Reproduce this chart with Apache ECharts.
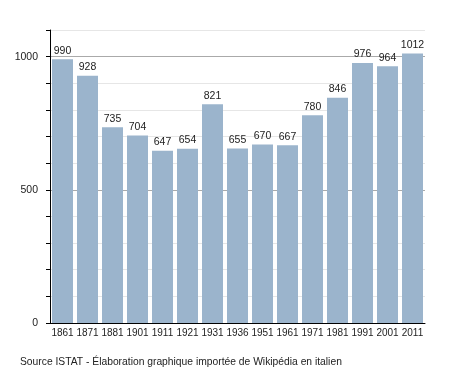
<!DOCTYPE html>
<html>
<head>
<meta charset="utf-8">
<script src="https://cdn.jsdelivr.net/npm/echarts@6/dist/echarts.min.js"></script>
<style>
html,body{margin:0;padding:0;background:#fff;}
#c{width:455px;height:373px;}
</style>
</head>
<body>
<div id="c"></div>
<script>
const years = ['1861','1871','1881','1901','1911','1921','1931','1936','1951','1961','1971','1981','1991','2001','2011'];
const population = [990,928,735,704,647,654,821,655,670,667,780,846,976,964,1012];
const sourceText = 'Source ISTAT - Élaboration graphique importée de Wikipédia en italien';

const chart = echarts.init(document.getElementById('c'), null, {renderer:'canvas'});
const font = 'Liberation Sans, Arial, Helvetica, sans-serif';
chart.setOption({
  animation:false,
  backgroundColor:'#fff',
  textStyle:{fontFamily:font},
  grid:{left:50,right:30,top:30,bottom:50,containLabel:false},
  graphic:[{type:'text',left:20,top:357,style:{text:sourceText,font:'10.3px '+font,fill:'#222'}}],
  xAxis:{
    type:'category',
    data:years,
    axisLine:{lineStyle:{color:'#000',width:1}},
    axisTick:{show:false},
    axisLabel:{color:'#222',fontSize:10,margin:5,interval:0,fontFamily:font},
    splitLine:{show:false}
  },
  yAxis:{
    type:'value',
    min:0,max:1100,interval:100,
    axisLine:{show:true,lineStyle:{color:'#000',width:1}},
    axisTick:{show:true,length:4,lineStyle:{color:'#000'}},
    axisLabel:{color:'#222',fontSize:10.5,margin:12,fontFamily:font,
      formatter:v=> (v%500===0 ? String(v) : '')},
    splitLine:{show:true,lineStyle:{color:['#aaaaaa','#e6e6e6','#e6e6e6','#e6e6e6','#e6e6e6'],width:1}}
  },
  series:[{
    type:'bar',
    data:population,
    barCategoryGap:'16%',
    itemStyle:{color:'#9bb4cc'},
    label:{show:true,position:'top',distance:3,color:'#222',fontSize:10.5,fontFamily:font}
  }]
});
</script>
</body>
</html>
